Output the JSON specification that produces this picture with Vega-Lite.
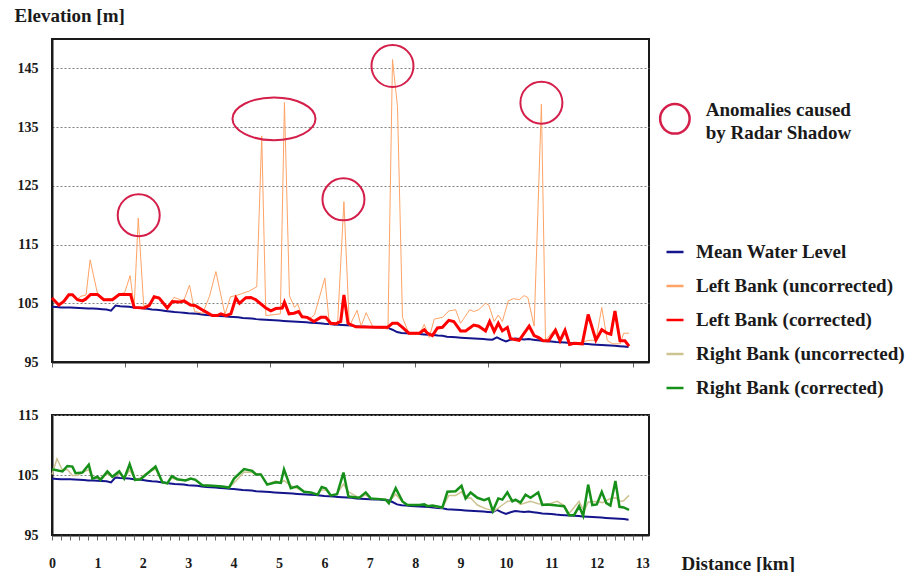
{
"$schema": "https://vega.github.io/schema/vega-lite/v6.json",
"padding": {"left": 13, "top": 5, "right": 0, "bottom": 0},
"background": "white",
"bounds": "flush",
"spacing": 53,
"resolve": {"scale": {"color": "shared"}, "legend": {"color": "shared"}},
"config": {
  "font": "Liberation Serif",
  "view": {"stroke": "#1a1a1a", "strokeWidth": 2},
  "axis": {"labelFont": "Liberation Serif", "labelFontWeight": "bold", "labelFontSize": 14, "labelColor": "#1a1a1a", "titleFont": "Liberation Serif", "titleFontWeight": "bold", "titleFontSize": 19, "titleColor": "#1a1a1a", "domainColor": "#1a1a1a", "domainWidth": 2, "tickColor": "#666666", "gridColor": "#808080", "gridDash": [2, 2], "gridWidth": 1},
  "axisX": {"labelOverlap": false}
},
"datasets": {
  "mwl": [
    {"dist":0.0,"elev":104.4},{"dist":0.1,"elev":104.35},{"dist":0.2,"elev":104.3},{"dist":0.3,"elev":104.3},{"dist":0.4,"elev":104.3},{"dist":0.5,"elev":104.25},{"dist":0.6,"elev":104.2},{"dist":0.7,"elev":104.15},{"dist":0.8,"elev":104.1},{"dist":0.9,"elev":104.1},
    {"dist":1.0,"elev":104.05},{"dist":1.1,"elev":104.0},{"dist":1.2,"elev":103.95},{"dist":1.3,"elev":103.75},{"dist":1.4,"elev":104.6},{"dist":1.5,"elev":104.5},{"dist":1.6,"elev":104.45},{"dist":1.7,"elev":104.4},{"dist":1.8,"elev":104.3},{"dist":1.9,"elev":104.25},
    {"dist":2.0,"elev":104.15},{"dist":2.1,"elev":104.05},{"dist":2.2,"elev":103.95},{"dist":2.3,"elev":103.9},{"dist":2.4,"elev":103.8},{"dist":2.5,"elev":103.7},{"dist":2.6,"elev":103.6},{"dist":2.7,"elev":103.5},{"dist":2.8,"elev":103.45},{"dist":2.9,"elev":103.4},
    {"dist":3.0,"elev":103.3},{"dist":3.1,"elev":103.25},{"dist":3.2,"elev":103.2},{"dist":3.3,"elev":103.1},{"dist":3.4,"elev":103.0},{"dist":3.5,"elev":102.95},{"dist":3.6,"elev":102.9},{"dist":3.7,"elev":102.85},{"dist":3.8,"elev":102.8},{"dist":3.9,"elev":102.7},
    {"dist":4.0,"elev":102.65},{"dist":4.1,"elev":102.6},{"dist":4.2,"elev":102.5},{"dist":4.3,"elev":102.45},{"dist":4.4,"elev":102.4},{"dist":4.5,"elev":102.3},{"dist":4.6,"elev":102.25},{"dist":4.7,"elev":102.2},{"dist":4.8,"elev":102.15},{"dist":4.9,"elev":102.1},
    {"dist":5.0,"elev":102.05},{"dist":5.1,"elev":102.0},{"dist":5.2,"elev":101.95},{"dist":5.3,"elev":101.9},{"dist":5.4,"elev":101.85},{"dist":5.5,"elev":101.8},{"dist":5.6,"elev":101.75},{"dist":5.7,"elev":101.7},{"dist":5.8,"elev":101.65},{"dist":5.9,"elev":101.6},
    {"dist":6.0,"elev":101.5},{"dist":6.1,"elev":101.45},{"dist":6.2,"elev":101.4},{"dist":6.3,"elev":101.35},{"dist":6.4,"elev":101.3},{"dist":6.5,"elev":101.25},{"dist":6.6,"elev":101.2},{"dist":6.7,"elev":101.1},{"dist":6.8,"elev":101.05},{"dist":6.9,"elev":101.0},
    {"dist":7.0,"elev":100.95},{"dist":7.1,"elev":100.9},{"dist":7.2,"elev":100.9},{"dist":7.3,"elev":100.85},{"dist":7.4,"elev":100.8},{"dist":7.5,"elev":100.5},{"dist":7.6,"elev":100.1},{"dist":7.7,"elev":99.95},{"dist":7.8,"elev":99.9},{"dist":7.9,"elev":99.85},
    {"dist":8.0,"elev":99.8},{"dist":8.1,"elev":99.75},{"dist":8.2,"elev":99.7},{"dist":8.3,"elev":99.65},{"dist":8.4,"elev":99.6},{"dist":8.5,"elev":99.5},{"dist":8.6,"elev":99.45},{"dist":8.7,"elev":99.3},{"dist":8.8,"elev":99.25},{"dist":8.9,"elev":99.2},
    {"dist":9.0,"elev":99.15},{"dist":9.1,"elev":99.1},{"dist":9.2,"elev":99.05},{"dist":9.3,"elev":99.0},{"dist":9.4,"elev":98.95},{"dist":9.5,"elev":98.9},{"dist":9.6,"elev":98.85},{"dist":9.7,"elev":98.8},{"dist":9.8,"elev":99.2},{"dist":9.9,"elev":98.8},
    {"dist":10.0,"elev":98.5},{"dist":10.1,"elev":98.8},{"dist":10.2,"elev":99.0},{"dist":10.3,"elev":98.9},{"dist":10.4,"elev":98.85},{"dist":10.5,"elev":98.9},{"dist":10.6,"elev":98.8},{"dist":10.7,"elev":98.7},{"dist":10.8,"elev":98.6},{"dist":10.9,"elev":98.55},
    {"dist":11.0,"elev":98.5},{"dist":11.1,"elev":98.4},{"dist":11.2,"elev":98.35},{"dist":11.3,"elev":98.3},{"dist":11.4,"elev":98.25},{"dist":11.5,"elev":98.2},{"dist":11.6,"elev":98.15},{"dist":11.7,"elev":98.1},{"dist":11.8,"elev":98.05},{"dist":11.9,"elev":98.0},
    {"dist":12.0,"elev":97.95},{"dist":12.1,"elev":97.9},{"dist":12.2,"elev":97.85},{"dist":12.3,"elev":97.8},{"dist":12.4,"elev":97.75},{"dist":12.5,"elev":97.7},{"dist":12.6,"elev":97.65},{"dist":12.7,"elev":97.55}
  ],
  "lbu": [
    {"dist":0.0,"elev":105.9},{"dist":0.15,"elev":104.8},{"dist":0.26,"elev":105.4},{"dist":0.37,"elev":106.5},{"dist":0.45,"elev":106.4},{"dist":0.56,"elev":105.7},{"dist":0.64,"elev":106.2},{"dist":0.75,"elev":106.4},{"dist":0.84,"elev":112.4},{"dist":1.0,"elev":106.7},
    {"dist":1.14,"elev":105.7},{"dist":1.33,"elev":105.8},{"dist":1.48,"elev":106.6},{"dist":1.6,"elev":106.8},{"dist":1.72,"elev":109.7},{"dist":1.81,"elev":104.4},{"dist":1.9,"elev":119.5},{"dist":2.02,"elev":104.6},{"dist":2.14,"elev":104.8},{"dist":2.25,"elev":106.2},
    {"dist":2.36,"elev":106.0},{"dist":2.54,"elev":104.4},{"dist":2.69,"elev":106.0},{"dist":2.9,"elev":105.4},{"dist":3.03,"elev":108.1},{"dist":3.14,"elev":103.6},{"dist":3.32,"elev":103.3},{"dist":3.47,"elev":106.2},{"dist":3.61,"elev":110.4},{"dist":3.81,"elev":103.1},
    {"dist":3.93,"elev":106.1},{"dist":4.09,"elev":106.4},{"dist":4.35,"elev":107.1},{"dist":4.51,"elev":107.8},{"dist":4.62,"elev":133.5},{"dist":4.71,"elev":102.9},{"dist":5.03,"elev":103.2},{"dist":5.12,"elev":139.2},{"dist":5.23,"elev":106.3},{"dist":5.34,"elev":104.3},
    {"dist":5.41,"elev":104.9},{"dist":5.52,"elev":102.6},{"dist":5.71,"elev":102.6},{"dist":5.78,"elev":103.0},{"dist":6.01,"elev":109.3},{"dist":6.11,"elev":101.4},{"dist":6.29,"elev":101.4},{"dist":6.43,"elev":122.3},{"dist":6.55,"elev":101.1},{"dist":6.72,"elev":103.8},
    {"dist":6.81,"elev":101.1},{"dist":6.92,"elev":103.4},{"dist":7.06,"elev":101.1},{"dist":7.4,"elev":100.6},{"dist":7.5,"elev":146.5},{"dist":7.61,"elev":138.5},{"dist":7.72,"elev":102.6},{"dist":7.87,"elev":99.7},{"dist":8.09,"elev":99.7},{"dist":8.2,"elev":101.4},
    {"dist":8.31,"elev":99.2},{"dist":8.42,"elev":102.3},{"dist":8.6,"elev":102.6},{"dist":8.68,"elev":103.2},{"dist":8.74,"elev":103.7},{"dist":8.89,"elev":103.9},{"dist":9.0,"elev":101.6},{"dist":9.2,"elev":103.9},{"dist":9.29,"elev":103.6},{"dist":9.4,"elev":103.9},
    {"dist":9.55,"elev":105.0},{"dist":9.62,"elev":104.7},{"dist":9.74,"elev":101.9},{"dist":9.83,"elev":103.0},{"dist":9.92,"elev":101.9},{"dist":10.05,"elev":105.4},{"dist":10.17,"elev":105.8},{"dist":10.29,"elev":105.6},{"dist":10.4,"elev":106.3},{"dist":10.48,"elev":106.0},
    {"dist":10.62,"elev":101.1},{"dist":10.78,"elev":138.9},{"dist":10.87,"elev":98.7},{"dist":11.09,"elev":100.7},{"dist":11.2,"elev":98.7},{"dist":11.31,"elev":100.0},{"dist":11.42,"elev":98.0},{"dist":11.68,"elev":98.4},{"dist":11.83,"elev":98.7},{"dist":11.98,"elev":98.7},
    {"dist":12.11,"elev":104.3},{"dist":12.23,"elev":98.7},{"dist":12.34,"elev":98.1},{"dist":12.52,"elev":98.1},{"dist":12.59,"elev":99.9},{"dist":12.71,"elev":99.9}
  ],
  "lbc": [
    {"dist":0.0,"elev":105.9},{"dist":0.15,"elev":104.7},{"dist":0.26,"elev":105.3},{"dist":0.37,"elev":106.45},{"dist":0.45,"elev":106.45},{"dist":0.56,"elev":105.6},{"dist":0.67,"elev":105.4},{"dist":0.74,"elev":105.7},{"dist":0.85,"elev":106.5},{"dist":1.0,"elev":106.5},
    {"dist":1.14,"elev":105.6},{"dist":1.33,"elev":105.6},{"dist":1.48,"elev":106.5},{"dist":1.73,"elev":106.5},{"dist":1.81,"elev":104.3},{"dist":2.03,"elev":104.2},{"dist":2.14,"elev":104.6},{"dist":2.25,"elev":106.1},{"dist":2.36,"elev":105.9},{"dist":2.54,"elev":104.2},
    {"dist":2.65,"elev":105.3},{"dist":2.8,"elev":105.2},{"dist":2.91,"elev":105.4},{"dist":3.05,"elev":104.7},{"dist":3.16,"elev":104.6},{"dist":3.35,"elev":103.7},{"dist":3.53,"elev":102.9},{"dist":3.64,"elev":102.9},{"dist":3.72,"elev":103.2},{"dist":3.83,"elev":102.9},
    {"dist":3.94,"elev":103.2},{"dist":4.05,"elev":105.9},{"dist":4.13,"elev":105.0},{"dist":4.27,"elev":105.95},{"dist":4.38,"elev":106.0},{"dist":4.49,"elev":105.6},{"dist":4.71,"elev":104.2},{"dist":4.82,"elev":103.7},{"dist":4.93,"elev":104.1},{"dist":5.07,"elev":104.2},
    {"dist":5.12,"elev":105.2},{"dist":5.22,"elev":103.2},{"dist":5.33,"elev":103.3},{"dist":5.43,"elev":103.6},{"dist":5.51,"elev":102.7},{"dist":5.62,"elev":102.6},{"dist":5.77,"elev":101.9},{"dist":5.92,"elev":102.6},{"dist":6.03,"elev":102.6},{"dist":6.14,"elev":101.6},
    {"dist":6.25,"elev":101.5},{"dist":6.36,"elev":101.9},{"dist":6.43,"elev":106.4},{"dist":6.52,"elev":101.6},{"dist":6.69,"elev":101.0},{"dist":7.13,"elev":100.9},{"dist":7.39,"elev":100.9},{"dist":7.5,"elev":101.6},{"dist":7.61,"elev":101.6},{"dist":7.72,"elev":100.9},
    {"dist":7.86,"elev":99.9},{"dist":8.09,"elev":99.9},{"dist":8.2,"elev":100.5},{"dist":8.27,"elev":99.9},{"dist":8.38,"elev":99.5},{"dist":8.49,"elev":100.8},{"dist":8.6,"elev":100.9},{"dist":8.74,"elev":102.1},{"dist":8.85,"elev":101.9},{"dist":9.0,"elev":100.3},
    {"dist":9.11,"elev":100.3},{"dist":9.29,"elev":101.3},{"dist":9.4,"elev":101.1},{"dist":9.55,"elev":100.3},{"dist":9.64,"elev":101.9},{"dist":9.74,"elev":100.2},{"dist":9.83,"elev":101.6},{"dist":9.92,"elev":100.3},{"dist":10.03,"elev":100.9},{"dist":10.1,"elev":98.95},
    {"dist":10.29,"elev":98.7},{"dist":10.51,"elev":101.1},{"dist":10.62,"elev":99.5},{"dist":10.73,"elev":99.1},{"dist":10.82,"elev":98.6},{"dist":10.94,"elev":98.6},{"dist":11.09,"elev":100.4},{"dist":11.19,"elev":98.6},{"dist":11.3,"elev":100.4},{"dist":11.4,"elev":98.0},
    {"dist":11.5,"elev":98.2},{"dist":11.68,"elev":98.1},{"dist":11.81,"elev":103.1},{"dist":11.98,"elev":98.7},{"dist":12.11,"elev":100.5},{"dist":12.23,"elev":99.9},{"dist":12.31,"elev":99.7},{"dist":12.4,"elev":103.7},{"dist":12.51,"elev":98.6},{"dist":12.62,"elev":98.6},
    {"dist":12.71,"elev":97.7}
  ],
  "rbu": [
    {"dist":0.0,"elev":105.1},{"dist":0.11,"elev":107.7},{"dist":0.23,"elev":105.8},{"dist":0.34,"elev":105.9},{"dist":0.45,"elev":104.9},{"dist":0.56,"elev":104.9},{"dist":0.67,"elev":105.4},{"dist":0.81,"elev":105.9},{"dist":0.89,"elev":104.6},{"dist":1.04,"elev":104.4},
    {"dist":1.22,"elev":105.2},{"dist":1.33,"elev":104.6},{"dist":1.48,"elev":105.2},{"dist":1.59,"elev":104.5},{"dist":1.71,"elev":105.8},{"dist":1.83,"elev":104.3},{"dist":1.95,"elev":104.5},{"dist":2.06,"elev":105.2},{"dist":2.28,"elev":106.0},{"dist":2.43,"elev":103.8},
    {"dist":2.54,"elev":103.6},{"dist":2.64,"elev":104.5},{"dist":2.76,"elev":104.2},{"dist":2.94,"elev":104.1},{"dist":3.06,"elev":104.4},{"dist":3.16,"elev":104.1},{"dist":3.31,"elev":103.3},{"dist":3.53,"elev":103.2},{"dist":3.75,"elev":103.1},{"dist":3.9,"elev":102.9},
    {"dist":4.05,"elev":104.0},{"dist":4.23,"elev":105.5},{"dist":4.41,"elev":105.4},{"dist":4.6,"elev":105.1},{"dist":4.74,"elev":103.5},{"dist":4.93,"elev":104.0},{"dist":5.04,"elev":103.7},{"dist":5.11,"elev":104.1},{"dist":5.26,"elev":103.2},{"dist":5.4,"elev":102.8},
    {"dist":5.55,"elev":102.3},{"dist":5.7,"elev":102.0},{"dist":5.85,"elev":101.8},{"dist":5.94,"elev":102.5},{"dist":6.03,"elev":102.5},{"dist":6.14,"elev":101.6},{"dist":6.28,"elev":101.9},{"dist":6.42,"elev":103.5},{"dist":6.53,"elev":102.2},{"dist":6.77,"elev":101.2},
    {"dist":6.91,"elev":101.7},{"dist":7.02,"elev":101.1},{"dist":7.35,"elev":100.9},{"dist":7.42,"elev":100.5},{"dist":7.57,"elev":101.8},{"dist":7.72,"elev":100.5},{"dist":7.83,"elev":100.0},{"dist":8.09,"elev":100.0},{"dist":8.2,"elev":100.0},{"dist":8.38,"elev":99.8},
    {"dist":8.6,"elev":99.5},{"dist":8.74,"elev":101.6},{"dist":8.89,"elev":101.6},{"dist":9.02,"elev":102.2},{"dist":9.11,"elev":101.1},{"dist":9.22,"elev":101.2},{"dist":9.37,"elev":100.0},{"dist":9.55,"elev":99.4},{"dist":9.74,"elev":99.0},{"dist":9.92,"elev":100.0},
    {"dist":10.03,"elev":100.6},{"dist":10.21,"elev":100.8},{"dist":10.32,"elev":100.1},{"dist":10.54,"elev":100.6},{"dist":10.71,"elev":100.2},{"dist":10.91,"elev":100.1},{"dist":11.13,"elev":100.6},{"dist":11.28,"elev":99.9},{"dist":11.39,"elev":98.6},{"dist":11.61,"elev":100.6},
    {"dist":11.72,"elev":99.0},{"dist":11.81,"elev":100.5},{"dist":11.98,"elev":100.6},{"dist":12.13,"elev":100.4},{"dist":12.3,"elev":101.1},{"dist":12.42,"elev":101.2},{"dist":12.5,"elev":100.6},{"dist":12.59,"elev":100.7},{"dist":12.71,"elev":101.6}
  ],
  "rbc": [
    {"dist":0.0,"elev":105.95},{"dist":0.23,"elev":105.6},{"dist":0.34,"elev":106.5},{"dist":0.45,"elev":106.4},{"dist":0.52,"elev":105.3},{"dist":0.67,"elev":105.4},{"dist":0.81,"elev":106.7},{"dist":0.89,"elev":104.4},{"dist":1.0,"elev":104.7},{"dist":1.07,"elev":104.2},
    {"dist":1.22,"elev":105.6},{"dist":1.33,"elev":104.7},{"dist":1.48,"elev":105.6},{"dist":1.59,"elev":104.4},{"dist":1.71,"elev":106.8},{"dist":1.83,"elev":104.2},{"dist":1.95,"elev":104.3},{"dist":2.06,"elev":105.0},{"dist":2.28,"elev":106.4},{"dist":2.43,"elev":103.8},
    {"dist":2.54,"elev":103.6},{"dist":2.64,"elev":104.8},{"dist":2.76,"elev":104.3},{"dist":2.94,"elev":104.1},{"dist":3.06,"elev":104.4},{"dist":3.16,"elev":104.2},{"dist":3.31,"elev":103.3},{"dist":3.53,"elev":103.2},{"dist":3.75,"elev":103.1},{"dist":3.9,"elev":102.9},
    {"dist":4.01,"elev":104.4},{"dist":4.23,"elev":106.0},{"dist":4.41,"elev":105.7},{"dist":4.49,"elev":105.1},{"dist":4.6,"elev":105.1},{"dist":4.74,"elev":103.4},{"dist":4.93,"elev":103.8},{"dist":5.04,"elev":103.7},{"dist":5.11,"elev":105.95},{"dist":5.26,"elev":102.8},
    {"dist":5.4,"elev":103.1},{"dist":5.55,"elev":102.2},{"dist":5.7,"elev":102.1},{"dist":5.85,"elev":101.7},{"dist":5.94,"elev":103.0},{"dist":6.03,"elev":102.8},{"dist":6.14,"elev":101.6},{"dist":6.28,"elev":101.8},{"dist":6.42,"elev":105.4},{"dist":6.53,"elev":101.4},
    {"dist":6.77,"elev":101.2},{"dist":6.91,"elev":102.1},{"dist":7.02,"elev":101.1},{"dist":7.35,"elev":100.9},{"dist":7.42,"elev":100.3},{"dist":7.57,"elev":102.8},{"dist":7.72,"elev":100.6},{"dist":7.83,"elev":100.0},{"dist":8.09,"elev":100.0},{"dist":8.2,"elev":100.1},
    {"dist":8.27,"elev":99.8},{"dist":8.38,"elev":99.9},{"dist":8.6,"elev":99.6},{"dist":8.71,"elev":102.2},{"dist":8.89,"elev":102.3},{"dist":9.02,"elev":103.2},{"dist":9.11,"elev":101.1},{"dist":9.22,"elev":102.1},{"dist":9.37,"elev":101.2},{"dist":9.52,"elev":100.8},
    {"dist":9.62,"elev":101.1},{"dist":9.71,"elev":99.0},{"dist":9.83,"elev":101.1},{"dist":9.92,"elev":100.9},{"dist":10.03,"elev":102.1},{"dist":10.14,"elev":100.6},{"dist":10.21,"elev":100.9},{"dist":10.32,"elev":100.4},{"dist":10.43,"elev":101.7},{"dist":10.54,"elev":101.2},
    {"dist":10.71,"elev":102.1},{"dist":10.8,"elev":100.0},{"dist":10.91,"elev":100.1},{"dist":11.13,"elev":99.9},{"dist":11.28,"elev":99.8},{"dist":11.39,"elev":98.3},{"dist":11.5,"elev":98.3},{"dist":11.61,"elev":99.8},{"dist":11.7,"elev":98.2},{"dist":11.81,"elev":103.4},
    {"dist":11.9,"elev":100.0},{"dist":12.0,"elev":100.1},{"dist":12.11,"elev":102.2},{"dist":12.21,"elev":100.3},{"dist":12.3,"elev":99.9},{"dist":12.41,"elev":104.0},{"dist":12.5,"elev":99.7},{"dist":12.59,"elev":99.6},{"dist":12.71,"elev":99.2}
  ],
  "anom": [
    {"dist":1.91,"elev":120.0},{"dist":6.42,"elev":122.7},{"dist":7.5,"elev":145.4},{"dist":10.78,"elev":139.15}
  ]
},
"vconcat": [
  {
    "width": 597, "height": 323,
    "layer": [
      {"data": {"name": "mwl"}, "mark": {"type": "line", "strokeWidth": 2},
       "encoding": {
         "x": {"field": "dist", "type": "quantitative", "scale": {"domain": [0, 13.15], "nice": false, "zero": false},
               "axis": {"values": [0,0.2,0.4,0.6,0.8,1,1.2,1.4,1.6,1.8,2,2.2,2.4,2.6,2.8,3,3.2,3.4,3.6,3.8,4,4.2,4.4,4.6,4.8,5,5.2,5.4,5.6,5.8,6,6.2,6.4,6.6,6.8,7,7.2,7.4,7.6,7.8,8,8.2,8.4,8.6,8.8,9,9.2,9.4,9.6,9.8,10,10.2,10.4,10.6,10.8,11,11.2,11.4,11.6,11.8,12,12.2,12.4,12.6,12.8,13],
                        "labels": false, "title": null, "grid": false, "tickSize": 5}},
         "y": {"field": "elev", "type": "quantitative", "scale": {"domain": [95, 150], "nice": false, "zero": false},
               "axis": {"values": [95,105,115,125,135,145], "grid": true, "ticks": false, "labelPadding": 14,
                        "labelFont": "Liberation Serif", "labelFontWeight": "bold", "labelFontSize": 14, "labelColor": "#1a1a1a",
                        "title": "Elevation [m]", "titleFont": "Liberation Serif", "titleFontWeight": "bold", "titleFontSize": 19, "titleColor": "#1a1a1a",
                        "titleAngle": 0, "titleX": -38, "titleY": -24, "titleAlign": "left", "titleBaseline": "middle"}},
         "color": {"datum": "Mean Water Level",
                   "scale": {"domain": ["Mean Water Level", "Left Bank (uncorrected)", "Left Bank (corrected)", "Right Bank (uncorrected)", "Right Bank (corrected)"],
                             "range": ["#14148c", "#ffa366", "#ff0000", "#cdc391", "#17901a"]},
                   "legend": {"orient": "none", "legendX": 613, "legendY": 203, "title": null, "symbolType": "stroke", "symbolSize": 289, "symbolStrokeWidth": 2.5,
                              "labelFont": "Liberation Serif", "labelFontWeight": "bold", "labelFontSize": 19, "labelColor": "#1a1a1a", "labelOffset": 11, "rowPadding": 14, "padding": 0, "labelLimit": 400}}
       }},
      {"data": {"name": "lbu"}, "mark": {"type": "line", "strokeWidth": 1},
       "encoding": {"x": {"field": "dist", "type": "quantitative"}, "y": {"field": "elev", "type": "quantitative"}, "color": {"datum": "Left Bank (uncorrected)"}}},
      {"data": {"name": "lbc"}, "mark": {"type": "line", "strokeWidth": 3},
       "encoding": {"x": {"field": "dist", "type": "quantitative"}, "y": {"field": "elev", "type": "quantitative"}, "color": {"datum": "Left Bank (corrected)"}}},
      {"data": {"name": "anom"}, "mark": {"type": "point", "shape": "circle", "filled": false, "stroke": "#d41f4b", "strokeWidth": 2, "size": 1764, "opacity": 1},
       "encoding": {"x": {"field": "dist", "type": "quantitative"}, "y": {"field": "elev", "type": "quantitative"}}},
      {"data": {"values": [{"dist": 4.89, "elev": 136.4}]}, "mark": {"type": "point", "shape": "M-1,0A1,0.515,0,1,1,1,0A1,0.515,0,1,1,-1,0Z", "filled": false, "stroke": "#d41f4b", "strokeWidth": 2, "size": 6889, "opacity": 1},
       "encoding": {"x": {"field": "dist", "type": "quantitative"}, "y": {"field": "elev", "type": "quantitative"}}},
      {"data": {"values": [{"dist": 13.72, "elev": 136.4}]}, "mark": {"type": "point", "shape": "circle", "filled": false, "stroke": "#d41f4b", "strokeWidth": 2.5, "size": 870, "opacity": 1},
       "encoding": {"x": {"field": "dist", "type": "quantitative"}, "y": {"field": "elev", "type": "quantitative"}}},
      {"data": {"values": [{"dist": 14.4, "elev": 137.9, "note": "Anomalies caused\nby Radar Shadow"}]},
       "mark": {"type": "text", "align": "left", "baseline": "middle", "lineBreak": "\n", "lineHeight": 23, "font": "Liberation Serif", "fontWeight": "bold", "fontSize": 19, "color": "#1a1a1a"},
       "encoding": {"x": {"field": "dist", "type": "quantitative"}, "y": {"field": "elev", "type": "quantitative"}, "text": {"field": "note"}}}
    ]
  },
  {
    "width": 597, "height": 120,
    "resolve": {"axis": {"x": "independent"}},
    "layer": [
      {"data": {"name": "mwl"}, "mark": {"type": "line", "strokeWidth": 2},
       "encoding": {
         "x": {"field": "dist", "type": "quantitative", "scale": {"domain": [0, 13.15], "nice": false, "zero": false},
               "axis": {"orient": "bottom", "values": [0,1,2,3,4,5,6,7,8,9,10,11,12,13], "format": "d",
                        "labelOverlap": false, "labelFlush": false, "labelBound": false,
                        "labelFont": "Liberation Serif", "labelFontWeight": "bold", "labelFontSize": 14, "labelColor": "#1a1a1a",
                        "labelPadding": 16, "tickSize": 5, "grid": false,
                        "title": "Distance [km]", "titleFont": "Liberation Serif", "titleFontWeight": "bold", "titleFontSize": 19, "titleColor": "#1a1a1a",
                        "titleX": 629, "titleY": 28, "titleAlign": "left", "titleBaseline": "middle"}},
         "y": {"field": "elev", "type": "quantitative", "scale": {"domain": [95, 115], "nice": false, "zero": false},
               "axis": {"values": [95,105,115], "grid": true, "ticks": false, "labelPadding": 14, "title": null,
                        "labelFont": "Liberation Serif", "labelFontWeight": "bold", "labelFontSize": 14, "labelColor": "#1a1a1a"}},
         "color": {"datum": "Mean Water Level"}
       }},
      {"data": {"name": "rbu"}, "mark": {"type": "line", "strokeWidth": 1.5},
       "encoding": {"x": {"field": "dist", "type": "quantitative",
                          "axis": {"orient": "bottom", "values": [0.2,0.4,0.6,0.8,1.2,1.4,1.6,1.8,2.2,2.4,2.6,2.8,3.2,3.4,3.6,3.8,4.2,4.4,4.6,4.8,5.2,5.4,5.6,5.8,6.2,6.4,6.6,6.8,7.2,7.4,7.6,7.8,8.2,8.4,8.6,8.8,9.2,9.4,9.6,9.8,10.2,10.4,10.6,10.8,11.2,11.4,11.6,11.8,12.2,12.4,12.6,12.8],
                                   "labels": false, "domain": false, "grid": false, "tickSize": 5, "title": null}},
                    "y": {"field": "elev", "type": "quantitative"}, "color": {"datum": "Right Bank (uncorrected)"}}},
      {"data": {"name": "rbc"}, "mark": {"type": "line", "strokeWidth": 2.5},
       "encoding": {"x": {"field": "dist", "type": "quantitative", "axis": null}, "y": {"field": "elev", "type": "quantitative"}, "color": {"datum": "Right Bank (corrected)"}}}
    ]
  }
]
}
